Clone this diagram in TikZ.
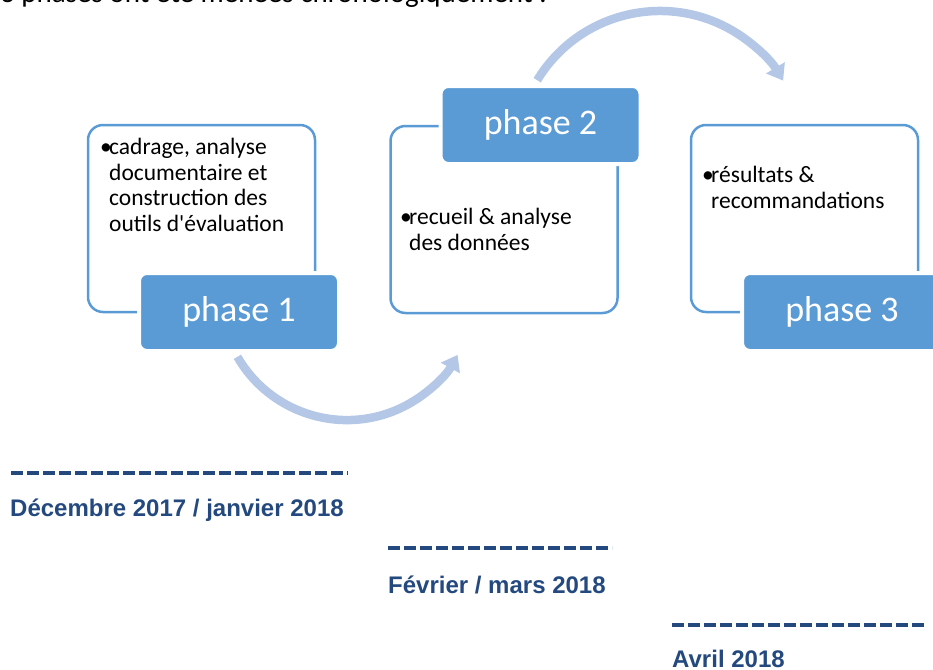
\documentclass[tikz,border=0pt]{standalone}
\usepackage{fontspec}
\setmainfont{Carlito}
\newfontfamily\datefont{Liberation Sans}
\usetikzlibrary{arrows.meta}

\definecolor{phaseblue}{HTML}{5B9BD5}
\definecolor{arcblue}{HTML}{B4C7E7}
\definecolor{datetext}{HTML}{24497F}

\begin{document}
\begin{tikzpicture}[x=1pt,y=-1pt,
  outline/.style={draw=phaseblue,line width=2.5pt,rounded corners=15pt,minimum width=227pt,minimum height=187pt,inner sep=0pt},
  phasebox/.style={fill=phaseblue,draw=white,line width=4pt,rounded corners=8pt,minimum width=200pt,minimum height=78pt,inner sep=0pt,text=white,font=\fontsize{36}{40}\selectfont},
  bullettext/.style={anchor=north west,inner sep=0pt,align=left,font=\fontsize{23.5}{25.7}\selectfont},
  arcarrow/.style={draw=arcblue,line width=8.5pt,-{Triangle[width=21pt,length=15pt]}},
  datelabel/.style={anchor=base west,inner sep=0pt,text=datetext,font=\datefont\bfseries\fontsize{24}{26}\selectfont},
  dashline/.style={draw=datetext,line width=4pt,dash pattern=on 11.5pt off 4.5pt}]
\useasboundingbox (0,0) rectangle (933,669);

\node[anchor=base west,inner sep=0pt,font=\fontsize{29}{32}\selectfont] (intro) at (0,3) {3 phases ont été menées chronologiquement :};

% the three frames
\node[outline] (box1) at (201.5,218.5) {};
\node[outline] (box2) at (504,219.5) {};
\node[outline] (box3) at (804.5,218.5) {};

% phase labels
\node[phasebox] (ph1) at (239,312) {phase 1};
\node[phasebox] (ph2) at (540.5,125) {phase 2};
\node[phasebox] (ph3) at (842,312) {phase 3};

\node[bullettext] (txt1) at (100,138) {\makebox[9pt][l]{•}cadrage, analyse\\
  \hspace*{9pt}documentaire et\\
  \hspace*{9pt}construction des\\
  \hspace*{9pt}outils d\textquotesingle évaluation};
\node[bullettext] (txt2) at (400,208) {\makebox[9pt][l]{•}recueil \& analyse\\
  \hspace*{9pt}des données};
\node[bullettext] (txt3) at (702,166) {\makebox[9pt][l]{•}résultats \&\\
  \hspace*{9pt}recommandations};

% curved arrows
\draw[arcarrow] ([xshift=-1.6pt,yshift=-3.8pt]ph1.south) arc[start angle=150,end angle=29,radius=126.5];
\draw[arcarrow] ([xshift=-3.3pt,yshift=3.8pt]ph2.north) arc[start angle=211.2,end angle=329,radius=143.6];

% time line
\draw[dashline] (11,473) -- (348,473);
\node[datelabel] (d1) at (10,516) {Décembre 2017 / janvier 2018};
\draw[dashline] (388,548) -- (612,548);
\node[datelabel] (d2) at (388,593) {Février / mars 2018};
\draw[dashline] (672,625) -- (925,625);
\node[datelabel] (d3) at (672,667) {Avril 2018};
\end{tikzpicture}
\end{document}
